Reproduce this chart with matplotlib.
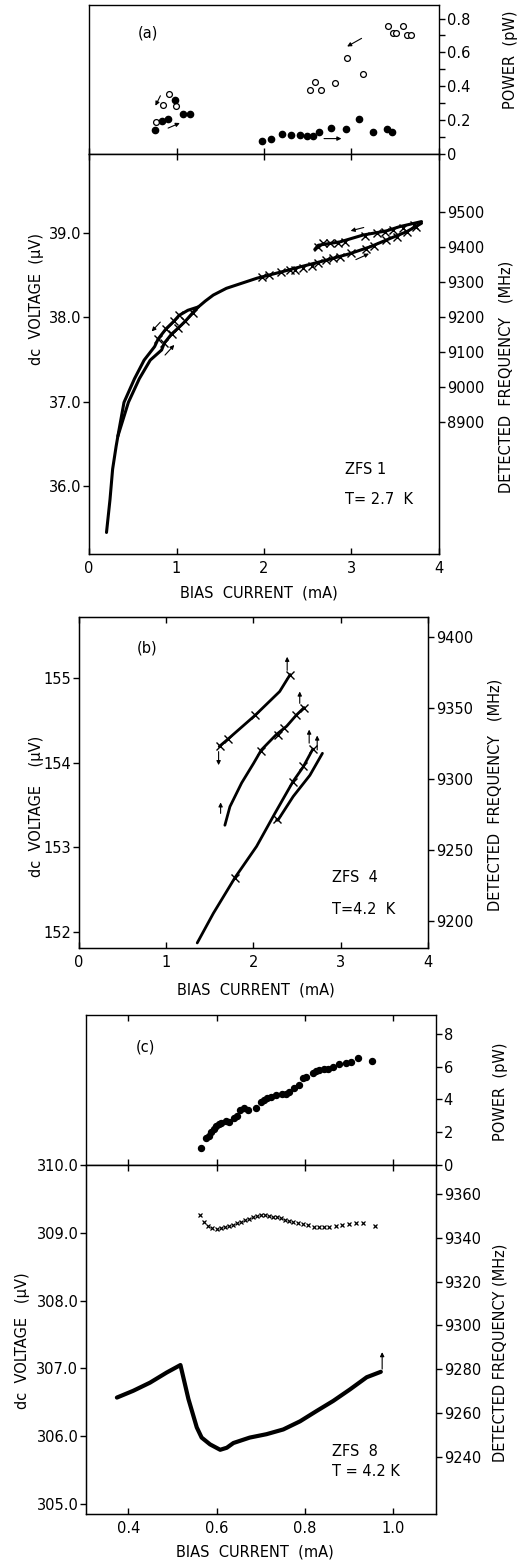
import matplotlib.pyplot as plt
from matplotlib.ticker import MultipleLocator, FormatStrFormatter

plt.rcParams['font.family'] = ['DejaVu Sans']

# ---------------- panel (a) data ----------------
# power (pW) vs bias current (mA)
a_open_I = [0.762, 0.843, 0.912, 0.992, 2.529, 2.579, 2.651, 2.812, 2.950, 3.130,
            3.421, 3.471, 3.510, 3.590, 3.632, 3.682]
a_open_P = [0.19, 0.29, 0.355, 0.285, 0.377, 0.425, 0.377, 0.42, 0.565, 0.47,
            0.757, 0.713, 0.713, 0.757, 0.705, 0.705]
a_fill_I = [0.759, 0.835, 0.904, 0.985, 1.069, 1.153, 1.981, 2.084, 2.207, 2.303,
            2.410, 2.494, 2.563, 2.625, 2.770, 2.935, 3.088, 3.249, 3.406, 3.460]
a_fill_P = [0.144, 0.192, 0.204, 0.316, 0.237, 0.237, 0.078, 0.091, 0.117, 0.111,
            0.111, 0.107, 0.107, 0.128, 0.151, 0.148, 0.204, 0.128, 0.148, 0.128]

# dc voltage (uV) traces
a_up_I = [0.20, 0.24, 0.27, 0.31, 0.33, 0.45, 0.575, 0.70, 0.83, 0.86, 0.945, 1.02,
          1.10, 1.185, 1.25, 1.33, 1.42, 1.57, 1.92, 2.22, 2.40, 2.55, 2.70, 2.98,
          3.21, 3.44, 3.63, 3.80]
a_up_V = [35.45, 35.84, 36.20, 36.47, 36.59, 36.99, 37.27, 37.49, 37.61, 37.69, 37.80,
          37.87, 37.95, 38.05, 38.12, 38.19, 38.26, 38.34, 38.46, 38.54, 38.59, 38.63,
          38.67, 38.75, 38.83, 38.93, 39.01, 39.11]
a_dnl_I = [0.33, 0.40, 0.52, 0.63, 0.75, 0.79, 0.88, 0.97, 1.03, 1.13, 1.25]
a_dnl_V = [36.59, 36.99, 37.27, 37.49, 37.65, 37.74, 37.86, 37.95, 38.02, 38.08, 38.12]
a_dnr_I = [2.58, 2.62, 2.87, 3.13, 3.40, 3.55, 3.80]
a_dnr_V = [38.80, 38.85, 38.89, 38.97, 39.02, 39.07, 39.13]

# detected frequency (MHz)
a_f_I = [0.785, 0.88, 0.968, 1.03, 0.86, 0.945, 1.02, 1.097, 1.185,
         1.98, 2.06, 2.19, 2.30, 2.35, 2.45, 2.55, 2.62, 2.71, 2.79, 2.87, 3.00,
         3.17, 3.26, 3.40, 3.52, 3.63, 3.74,
         2.62, 2.68, 2.75, 2.85, 2.93, 3.16, 3.29, 3.38, 3.48, 3.59, 3.71]
a_f_F = [9137, 9166, 9188, 9205, 9125, 9152, 9169, 9188, 9212,
         9315, 9321, 9329, 9334, 9334, 9339, 9346, 9353, 9363, 9368, 9372, 9384,
         9393, 9403, 9420, 9429, 9444, 9458,
         9401, 9411, 9411, 9412, 9415, 9431, 9439, 9444, 9449, 9453, 9463]

a_arrows_P = [((0.816, 0.344), (0.759, 0.285)), ((0.904, 0.153), (1.038, 0.183)),
              ((3.115, 0.683), (2.950, 0.635)), ((2.686, 0.091), (2.885, 0.091))]
a_arrows_V = [((0.815, 37.94), (0.716, 37.83)), ((0.869, 37.55), (0.975, 37.67)),
              ((3.14, 39.06), (2.99, 39.02)), ((3.05, 38.68), (3.20, 38.75))]

# ---------------- panel (b) data ----------------
b1_I = [1.607, 1.71, 2.02, 2.30, 2.42]
b1_V = [154.19, 154.28, 154.56, 154.84, 155.04]
b2_I = [1.672, 1.73, 1.864, 2.00, 2.09, 2.26, 2.38, 2.49, 2.58]
b2_V = [153.26, 153.48, 153.76, 153.99, 154.15, 154.33, 154.43, 154.56, 154.65]
b3_I = [1.355, 1.54, 1.787, 2.035, 2.245, 2.455, 2.57, 2.68]
b3_V = [151.87, 152.22, 152.64, 153.01, 153.40, 153.78, 153.95, 154.16]
b4_I = [2.265, 2.28, 2.455, 2.646, 2.79]
b4_V = [153.32, 153.32, 153.60, 153.85, 154.11]
b_f_I = [1.62, 1.71, 2.02, 2.42, 2.09, 2.28, 2.35, 2.49, 2.58,
         1.787, 2.265, 2.455, 2.57, 2.68]
b_f_F = [9323, 9328, 9345, 9373, 9320, 9331, 9336, 9345, 9350,
         9230, 9272, 9298, 9309, 9321]
b_arrows = [((1.60, 154.13), (1.60, 153.97)), ((2.386, 155.09), (2.386, 155.25)),
            ((1.623, 153.40), (1.623, 153.53)), ((2.53, 154.70), (2.53, 154.84)),
            ((2.638, 154.23), (2.638, 154.39)), ((2.73, 154.15), (2.73, 154.32))]

# ---------------- panel (c) data ----------------
c_P_I = [0.565, 0.576, 0.582, 0.588, 0.594, 0.599, 0.605, 0.611, 0.622, 0.629,
         0.639, 0.647, 0.654, 0.662, 0.672, 0.689, 0.700, 0.708, 0.715, 0.723,
         0.734, 0.748, 0.757, 0.765, 0.776, 0.786, 0.795, 0.802, 0.818, 0.825,
         0.833, 0.844, 0.852, 0.863, 0.878, 0.894, 0.905, 0.920, 0.952]
c_P = [1.04, 1.64, 1.75, 1.99, 2.21, 2.40, 2.52, 2.56, 2.66, 2.62,
       2.90, 3.01, 3.37, 3.47, 3.33, 3.51, 3.82, 3.98, 4.08, 4.18,
       4.28, 4.32, 4.35, 4.43, 4.69, 4.91, 5.30, 5.40, 5.60, 5.75,
       5.81, 5.85, 5.89, 5.97, 6.17, 6.25, 6.31, 6.56, 6.38]
c_V_I = [0.374, 0.411, 0.449, 0.487, 0.518, 0.536, 0.555, 0.566, 0.585, 0.608,
         0.623, 0.638, 0.675, 0.713, 0.751, 0.789, 0.826, 0.864, 0.902, 0.940, 0.972]
c_V = [306.57, 306.67, 306.79, 306.94, 307.05, 306.55, 306.13, 305.98, 305.88, 305.80,
       305.83, 305.90, 305.98, 306.03, 306.10, 306.22, 306.37, 306.52, 306.69, 306.87,
       306.95]
c_f_I = [0.562, 0.571, 0.580, 0.590, 0.600, 0.610, 0.619, 0.629, 0.638, 0.647,
         0.656, 0.665, 0.674, 0.683, 0.692, 0.701, 0.710, 0.719, 0.728, 0.737,
         0.746, 0.755, 0.764, 0.774, 0.785, 0.796, 0.808, 0.821, 0.832, 0.843,
         0.854, 0.870, 0.885, 0.900, 0.916, 0.932, 0.958]
c_f = [9350.4, 9347.4, 9345.5, 9344.6, 9344.2, 9344.4, 9344.7, 9345.3, 9346.0, 9346.6,
       9347.3, 9348.0, 9348.7, 9349.3, 9349.8, 9350.2, 9350.2, 9350.0, 9349.7, 9349.3,
       9348.8, 9348.3, 9347.8, 9347.3, 9346.8, 9346.3, 9345.8, 9345.1, 9344.8, 9344.8,
       9345.1, 9345.4, 9345.8, 9346.4, 9346.8, 9346.9, 9345.5]
c_arrow = [((0.975, 306.99), (0.975, 307.24))]

# ---------------- figure ----------------
W, H = 530, 1562
fig = plt.figure(figsize=(W / 100, H / 100), dpi=100)


def rect(l, r, t, b):
    return [l / W, 1 - b / H, (r - l) / W, (b - t) / H]


def ftext(px, py, s, **kw):
    kw.setdefault('fontsize', 10.5)
    fig.text(px / W, 1 - py / H, s, **kw)


FS = 10.5
arrow_kw = dict(arrowstyle='-|>', color='k', lw=0.8, mutation_scale=6,
                shrinkA=0, shrinkB=0)


def style_main(ax, xlabels=True):
    for s in ax.spines.values():
        s.set_linewidth(1.0)
    ax.tick_params(axis='x', direction='in', top=True, bottom=True, length=4,
                   width=1, labelsize=FS, pad=5, labelbottom=xlabels)
    ax.tick_params(axis='y', direction='out', left=True, right=False, length=4,
                   width=1, labelsize=FS, pad=1.5)


def style_freq(ax):
    ax.tick_params(axis='y', direction='out', length=4, width=1, labelsize=FS, pad=1.5)


def style_power(ax, top):
    for s in ax.spines.values():
        s.set_linewidth(1.0)
    ax.yaxis.tick_right()
    ax.tick_params(axis='y', which='both', direction='out', length=4, width=1,
                   labelsize=FS, pad=1.5, left=False, right=True)
    ax.tick_params(axis='x', direction='in', top=top, bottom=True, length=4,
                   width=1, labelbottom=False)


# ----- (a) power -----
axPa = fig.add_axes(rect(89, 439, 5, 154))
axPa.plot(a_open_I, a_open_P, 'o', ms=4.2, mfc='white', mec='k', mew=0.9)
axPa.plot(a_fill_I, a_fill_P, 'o', ms=4.5, color='k')
for (x0, y0), (x1, y1) in a_arrows_P:
    axPa.annotate('', xy=(x1, y1), xytext=(x0, y0), arrowprops=arrow_kw)
axPa.set_xlim(0, 4)
axPa.set_ylim(0, 0.88)
axPa.xaxis.set_major_locator(MultipleLocator(1))
axPa.yaxis.set_major_locator(MultipleLocator(0.2))
axPa.yaxis.set_minor_locator(MultipleLocator(0.1))
axPa.yaxis.set_major_formatter(FormatStrFormatter('%g'))
style_power(axPa, top=False)

# ----- (a) main -----
axA = fig.add_axes(rect(89, 439, 154, 554))
axA.plot(a_up_I, a_up_V, '-', color='k', lw=2.2, solid_capstyle='round')
axA.plot(a_dnl_I, a_dnl_V, '-', color='k', lw=2.2, solid_capstyle='round')
axA.plot(a_dnr_I, a_dnr_V, '-', color='k', lw=2.2, solid_capstyle='round')
for (x0, y0), (x1, y1) in a_arrows_V:
    axA.annotate('', xy=(x1, y1), xytext=(x0, y0), arrowprops=arrow_kw)
axA.set_xlim(0, 4)
axA.set_ylim(35.195, 39.93)
axA.set_xticks([0, 1, 2, 3, 4])
axA.set_yticks([36, 37, 38, 39])
axA.yaxis.set_major_formatter(FormatStrFormatter('%.1f'))
style_main(axA)
axAf = axA.twinx()
axAf.plot(a_f_I, a_f_F, 'x', color='k', ms=6, mew=1.0)
axAf.set_ylim(8522.9, 9665.7)
axAf.set_yticks([8900, 9000, 9100, 9200, 9300, 9400, 9500])
style_freq(axAf)

# ----- (b) -----
axB = fig.add_axes(rect(79, 428, 617, 948))
for xs, ys in [(b1_I, b1_V), (b2_I, b2_V), (b3_I, b3_V), (b4_I, b4_V)]:
    axB.plot(xs, ys, '-', color='k', lw=2.0, solid_capstyle='round')
for (x0, y0), (x1, y1) in b_arrows:
    axB.annotate('', xy=(x1, y1), xytext=(x0, y0), arrowprops=arrow_kw)
axB.set_xlim(0, 4)
axB.set_ylim(151.81, 155.72)
axB.set_xticks([0, 1, 2, 3, 4])
axB.set_yticks([152, 153, 154, 155])
style_main(axB)
axBf = axB.twinx()
axBf.plot(b_f_I, b_f_F, 'x', color='k', ms=5.5, mew=1.0)
axBf.set_ylim(9181.0, 9414.1)
axBf.set_yticks([9200, 9250, 9300, 9350, 9400])
style_freq(axBf)

# ----- (c) power -----
axPc = fig.add_axes(rect(86, 436, 1015, 1165))
axPc.plot(c_P_I, c_P, 'o', ms=4.3, color='k')
axPc.set_xlim(0.304, 1.097)
axPc.set_ylim(0, 9.16)
axPc.set_xticks([0.4, 0.6, 0.8, 1.0])
axPc.set_yticks([0, 2, 4, 6, 8])
style_power(axPc, top=True)

# ----- (c) main -----
axC = fig.add_axes(rect(86, 436, 1165, 1514))
axC.plot(c_V_I, c_V, '-', color='k', lw=3.0, solid_capstyle='round')
for (x0, y0), (x1, y1) in c_arrow:
    axC.annotate('', xy=(x1, y1), xytext=(x0, y0), arrowprops=arrow_kw)
axC.set_xlim(0.304, 1.097)
axC.set_ylim(304.853, 310.0)
axC.set_xticks([0.4, 0.6, 0.8, 1.0])
axC.set_yticks([305, 306, 307, 308, 309, 310])
axC.yaxis.set_major_formatter(FormatStrFormatter('%.1f'))
style_main(axC)
axCf = axC.twinx()
axCf.plot(c_f_I, c_f, 'x', color='k', ms=3.5, mew=0.9)
axCf.set_ylim(9214.0, 9373.2)
axCf.set_yticks([9240, 9260, 9280, 9300, 9320, 9340, 9360])
style_freq(axCf)

# ----- labels -----
rot = dict(rotation=90, ha='center', va='center')
ftext(510, 60, 'POWER  (pW)', **rot)
ftext(501, 1092, 'POWER  (pW)', **rot)
ftext(506, 377, 'DETECTED  FREQUENCY   (MHz)', **rot)
ftext(495, 795, 'DETECTED  FREQUENCY   (MHz)', **rot)
ftext(500, 1353, 'DETECTED FREQUENCY (MHz)', **rot)
ftext(37, 299, 'dc  VOLTAGE  (\u00b5V)', **rot)
ftext(37, 806, 'dc  VOLTAGE    (\u00b5V)', **rot)
ftext(23, 1341, 'dc  VOLTAGE   (\u00b5V)', **rot)

ftext(259, 593, 'BIAS  CURRENT  (mA)', ha='center', va='center')
ftext(256, 990, 'BIAS  CURRENT  (mA)', ha='center', va='center')
ftext(255, 1552, 'BIAS  CURRENT  (mA)', ha='center', va='center')

ftext(138, 33, '(a)', ha='left', va='center')
ftext(137, 648, '(b)', ha='left', va='center')
ftext(136, 1047, '(c)', ha='left', va='center')

ftext(345, 470, 'ZFS 1', ha='left', va='center')
ftext(345, 499, 'T= 2.7  K', ha='left', va='center')
ftext(332, 877, 'ZFS  4', ha='left', va='center')
ftext(332, 910, 'T=4.2  K', ha='left', va='center')
ftext(332, 1452, 'ZFS  8', ha='left', va='center')
ftext(332, 1472, 'T = 4.2 K', ha='left', va='center')

plt.savefig('out.png', dpi=100)
